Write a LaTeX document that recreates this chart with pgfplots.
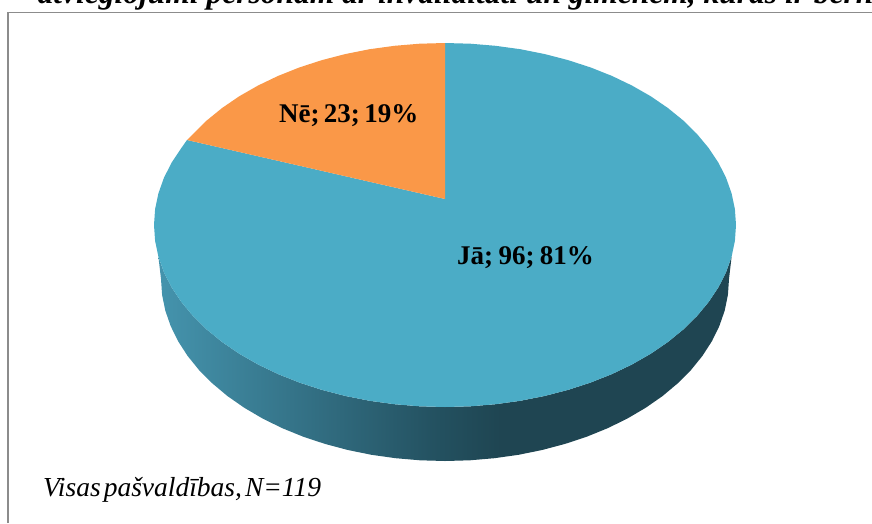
\documentclass[border=0pt]{standalone}
\usepackage{pgfplots}
\pgfplotsset{compat=1.18}
\usepackage{fontspec}
\setmainfont{Liberation Serif}
\definecolor{pieblue}{RGB}{75,172,198}
\definecolor{pieorange}{RGB}{250,152,72}
\definecolor{framegray}{RGB}{140,140,140}
% side of the disc: light on the left, flat dark from about the middle on
\pgfdeclarehorizontalshading{sidegrad}{100bp}{
  rgb(0bp)=(0.27,0.58,0.68);
  rgb(25bp)=(0.27,0.58,0.68);
  rgb(38bp)=(0.20,0.44,0.52);
  rgb(49bp)=(0.14,0.32,0.38);
  rgb(55bp)=(0.12,0.27,0.32);
  rgb(100bp)=(0.12,0.27,0.32)}
% top face, lower half of the rim included (pixel positions of the picture)
\pgfplotstableread{
x y
445 43
470.4 43.7
495.5 45.8
520.3 49.2
544.5 54
568 60.1
590.5 67.4
611.9 75.9
632.1 85.6
650.8 96.3
667.9 108
683.4 120.6
697 134
708.7 148.1
718.5 162.8
726.1 177.9
731.6 193.4
734.9 209.1
736 225
734.9 240.9
731.6 256.6
726.1 272.1
718.5 287.2
708.7 301.9
697 316
683.4 329.4
667.9 342
650.8 353.7
632.1 364.4
611.9 374.1
590.5 382.6
568 389.9
544.5 396
520.3 400.8
495.5 404.2
470.4 406.3
445 407
419.6 406.3
394.5 404.2
369.7 400.8
345.5 396
322 389.9
299.5 382.6
278.1 374.1
257.9 364.4
239.2 353.7
222.1 342
206.6 329.4
193 316
181.3 301.9
171.5 287.2
163.9 272.1
158.4 256.6
155.1 240.9
154 225
155.1 209.1
158.4 193.4
163.9 177.9
171.5 162.8
181.3 148.1
187 140
445 199
}\faceyes
\pgfplotstableread{
x y
445 199
187 140
193 134
206.6 120.6
222.1 108
239.2 96.3
257.9 85.6
278.1 75.9
299.5 67.4
322 60.1
345.5 54
369.7 49.2
394.5 45.8
419.6 43.7
445 43
}\faceno
% wall: rim of the top face, then the lower edge, which is a little narrower
\pgfplotstableread{
x y
158.4 256.6
163.9 272.1
171.5 287.2
181.3 301.9
193 316
206.6 329.4
222.1 342
239.2 353.7
257.9 364.4
278.1 374.1
299.5 382.6
322 389.9
345.5 396
369.7 400.8
394.5 404.2
419.6 406.3
445 407
470.4 406.3
495.5 404.2
520.3 400.8
544.5 396
568 389.9
590.5 382.6
611.9 374.1
632.1 364.4
650.8 353.7
667.9 342
683.4 329.4
697 316
708.7 301.9
718.5 287.2
726.1 272.1
731.6 256.6
729 279
727.9 294.9
724.7 310.6
719.3 326.1
711.9 341.2
702.4 355.9
691 370
677.6 383.4
662.6 396
645.8 407.7
627.6 418.4
607.9 428.1
587 436.6
565 443.9
542.1 450
518.5 454.8
494.3 458.2
469.8 460.3
445 461
420.2 460.3
395.7 458.2
371.5 454.8
347.9 450
325 443.9
303 436.6
282.1 428.1
262.4 418.4
244.2 407.7
227.4 396
212.4 383.4
199 370
187.6 355.9
178.1 341.2
170.7 326.1
165.3 310.6
162.1 294.9
161 279
}\side
\begin{document}
\begin{tikzpicture}
% the title runs off the page in the reference too
\path[use as bounding box, clip] (0,0) rectangle (872pt,523pt);
\begin{axis}[
    at={(0,0)}, anchor=south west,
    width=872pt, height=523pt,
    scale only axis,
    hide axis,
    xmin=0, xmax=872,
    ymin=0, ymax=523,
    y dir=reverse,
    ]
    % chart frame, runs off the right and bottom of the crop
    \addplot[framegray, line width=1.7pt] coordinates {(7.7,523) (7.7,12.5) (872,12.5)};
    \addplot[draw=none, shading=sidegrad] table {\side};
    \addplot[draw=none, fill=pieblue] table {\faceyes};
    \addplot[draw=none, fill=pieorange] table {\faceno};
    \node[anchor=base west, font=\fontsize{31.5}{31.5}\selectfont\bfseries\itshape, inner sep=0pt]
        at (axis cs:37.5,3) {atvieglojumi personām ar invaliditāti un ģimenēm, kurās ir bērni};
    \node[anchor=base west, font=\fontsize{27}{27}\selectfont\bfseries, inner sep=0pt]
        at (axis cs:279,122) {\spaceskip=.16em Nē; 23; 19\%};
    \node[anchor=base west, font=\fontsize{27}{27}\selectfont\bfseries, inner sep=0pt]
        at (axis cs:457,264) {\spaceskip=.2em Jā; 96; 81\%};
    \node[anchor=base west, font=\fontsize{27.5}{27.5}\selectfont\itshape, inner sep=0pt]
        at (axis cs:43,496) {\spaceskip=.11em Visas pašvaldības, N=119};
\end{axis}
\end{tikzpicture}
\end{document}
